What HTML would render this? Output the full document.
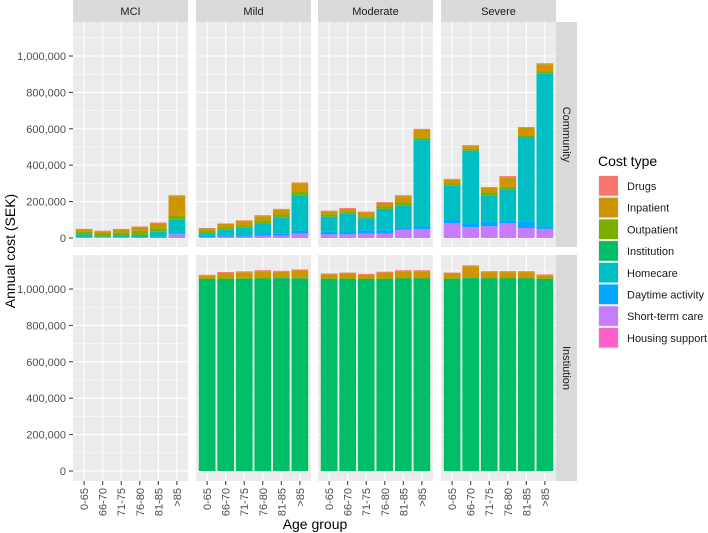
<!DOCTYPE html>
<html><head><meta charset="utf-8"><style>
body{margin:0;background:#fff;}
svg{font-family:"Liberation Sans",sans-serif;display:block;}
</style></head><body>
<svg id="chart" width="708" height="533"></svg>
<script>
const ages = ["0-65","66-70","71-75","76-80","81-85",">85"];
const severities = ["MCI","Mild","Moderate","Severe"];
const settings = ["Community","Institution"];
const costTypes = ["Drugs","Inpatient","Outpatient","Institution","Homecare","Daytime activity","Short-term care","Housing support"];
const colors = ["#F8766D","#CD9600","#7CAE00","#00BE67","#00BFC4","#00A9FF","#C77CFF","#FF61CC"];
// values in thousands SEK, order matches costTypes
const communityMCI = [[3,12,15,0,15,3,2,0],[3,10,18,0,5,2,2,0],[3,15,18,0,10,2,2,0],[3,20,23,0,12,3,2,0],[3,28,20,0,28,3,3,0],[5,107,20,0,80,3,20,0]];
const communityMild = [[3,10,15,0,15,7,5,0],[3,17,15,0,30,7,8,0],[4,22,15,0,40,8,8,0],[5,23,15,0,60,10,12,0],[5,26,15,0,90,12,12,0],[5,45,20,0,195,15,25,0]];
const communityModerate = [[5,15,13,0,82,15,20,0],[5,15,12,0,95,18,20,0],[5,20,12,0,65,18,25,0],[5,20,13,0,115,20,25,0],[5,35,15,0,120,15,45,0],[5,45,12,0,475,15,48,0]];
const communitySevere = [[5,18,15,0,185,20,82,0],[5,15,10,0,400,20,60,0],[5,25,15,0,145,25,65,0],[8,50,15,0,170,15,82,0],[5,40,10,0,465,35,55,0],[5,40,10,0,840,15,50,0]];
const institutionMCI = [];
const institutionMild = [[5,15,3,1055,0,0,0,0],[5,28,5,1055,0,0,0,0],[5,30,5,1057,0,0,0,0],[5,35,5,1058,0,0,0,0],[5,30,5,1060,0,0,0,0],[5,38,5,1059,0,0,0,0]];
const institutionModerate = [[5,20,5,1055,0,0,0,0],[5,25,5,1055,0,0,0,0],[5,20,3,1055,0,0,0,0],[5,30,5,1055,0,0,0,0],[5,35,5,1058,0,0,0,0],[5,35,5,1058,0,0,0,0]];
const institutionSevere = [[5,25,5,1055,0,0,0,0],[5,60,5,1060,0,0,0,0],[5,30,5,1058,0,0,0,0],[5,30,5,1058,0,0,0,0],[5,30,5,1058,0,0,0,0],[5,15,5,1055,0,0,0,0]];
const yTicks = [0,200000,400000,600000,800000,1000000];
const yTickLabels = ["0","200,000","400,000","600,000","800,000","1,000,000"];

const data = {Community:[communityMCI,communityMild,communityModerate,communitySevere], Institution:[institutionMCI,institutionMild,institutionModerate,institutionSevere]};
const svg = document.getElementById('chart');
const NS = "http://www.w3.org/2000/svg";
function mk(tag, attrs, parent){const e=document.createElementNS(NS,tag);for(const k in attrs)e.setAttribute(k,attrs[k]);(parent||svg).appendChild(e);return e;}
const panelX = [73,196,318,441];
const panelW = 115;
const rows = [{top:22,bot:247,zero:238,scale:182/1e6},{top:255,bot:481,zero:471,scale:182/1e6}];
function yScale(r,v){return rows[r].zero - v*rows[r].scale;}
const unit = panelW/6.2;
function xCenter(p,i){return panelX[p]+(0.6+i+0.5)*unit - 0.5*unit + 0.5*unit - 0.5*unit + 0.5*unit - 0.5*unit;}

settings.forEach((s,r)=>{
  const R = rows[r];
  severities.forEach((sev,p)=>{
    const g = mk('g',{});
    
    
    mk('rect',{x:panelX[p],y:R.top,width:panelW,height:R.bot-R.top,fill:'#ebebeb'},g);
    for(let v=100000; v<1200000; v+=200000){const y=yScale(r,v); if(y>R.top) mk('line',{x1:panelX[p],x2:panelX[p]+panelW,y1:y,y2:y,stroke:'#fff','stroke-width':0.5},g);}
    yTicks.forEach(v=>{const y=yScale(r,v);mk('line',{x1:panelX[p],x2:panelX[p]+panelW,y1:y,y2:y,stroke:'#fff','stroke-width':1.1},g);});
    ages.forEach((a,i)=>{const cx=xCenter(p,i); mk('line',{x1:cx,x2:cx,y1:R.top,y2:R.bot,stroke:'#fff','stroke-width':1.1},g);});
    const vals = data[s][p];
    vals.forEach((row,i)=>{
      const cx=xCenter(p,i); const bw=unit*0.9;
      let cum=0;
      for(let k=costTypes.length-1;k>=0;k--){
        const v=row[k]*1000; if(v<=0) continue;
        const y1=yScale(r,cum), y2=yScale(r,cum+v);
        const b=mk('rect',{x:cx-bw/2,y:y2,width:bw,height:y1-y2,fill:colors[k]},g);
        
        
        cum+=v;
      }
    });
    if(r===0){
      mk('rect',{x:panelX[p],y:0,width:panelW,height:22,fill:'#d9d9d9'});
      const t=mk('text',{x:panelX[p]+panelW/2,y:15,'text-anchor':'middle','font-size':11,fill:'#1a1a1a'});
      t.textContent=sev;
      
      
    }
  });
  mk('rect',{x:556,y:R.top,width:21,height:R.bot-R.top,fill:'#d9d9d9'});
  const cy=(R.top+R.bot)/2;
  const st=mk('text',{x:563,y:cy,'text-anchor':'middle','font-size':11,fill:'#1a1a1a',transform:'rotate(90 563 '+cy+')'});
  st.textContent=s==='Institution'?'Instiution':s;
  
  
  yTicks.forEach((v,j)=>{
    const y=yScale(r,v);
    mk('line',{x1:69,x2:73,y1:y,y2:y,stroke:'#333','stroke-width':1});
    const t=mk('text',{x:66,y:y+4,'text-anchor':'end','font-size':11,fill:'#4d4d4d'});
    t.textContent=yTickLabels[j];
    
    
  });
});
severities.forEach((sev,p)=>{
  ages.forEach((a,i)=>{
    const cx=xCenter(p,i);
    mk('line',{x1:cx,x2:cx,y1:481,y2:485,stroke:'#333','stroke-width':1});
    const t=mk('text',{x:cx+4,y:488,'text-anchor':'end','font-size':11,fill:'#4d4d4d',transform:'rotate(-90 '+(cx+4)+' 488)'});
    t.textContent=a;
    
    
  });
});
const xt=mk('text',{x:315,y:529,'text-anchor':'middle','font-size':14,fill:'#000'});
xt.textContent='Age group';


const yt=mk('text',{x:15,y:251,'text-anchor':'middle','font-size':14,fill:'#000',transform:'rotate(-90 15 251)'});
yt.textContent='Annual cost (SEK)';


const lt=mk('text',{x:598,y:166,'font-size':14,fill:'#000'});
lt.textContent='Cost type';


costTypes.forEach((c,k)=>{
  const y=175+k*21.7;
  const lg=mk('g',{});
  
  
  mk('rect',{x:598,y:y,width:21,height:21.7,fill:'#f2f2f2'},lg);
  mk('rect',{x:599,y:y+1,width:19,height:19.7,fill:colors[k]},lg);
  const t=mk('text',{x:627,y:y+15,'font-size':11,fill:'#1a1a1a'},lg);
  t.textContent=c;
});
</script>
</body></html>
